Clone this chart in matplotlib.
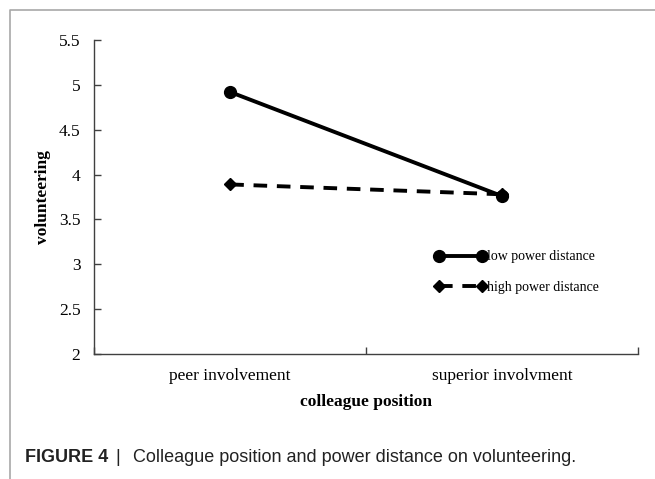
import matplotlib
matplotlib.use("Agg")
import matplotlib.pyplot as plt
from matplotlib.lines import Line2D

# data
positions = ["peer involvement", "superior involvment"]
low_pd = [4.92, 3.76]
high_pd = [3.89, 3.78]
yticks = [2, 2.5, 3, 3.5, 4, 4.5, 5, 5.5]
ytick_labels = ["2", "2.5", "3", "3.5", "4", "4.5", "5", "5.5"]

plt.rcParams['font.family'] = ['Liberation Serif', 'DejaVu Serif']

fig = plt.figure(figsize=(6.55, 4.79), dpi=100)
ax = fig.add_axes([94.3 / 655, 1 - 354 / 479, (638 - 94.3) / 655, (354 - 40) / 479])

x = list(range(len(positions)))
ax.plot(x, high_pd, color='black', lw=2.8, ls=(0, (3.5, 2.5)), marker='D', ms=6,
        label="high power distance", zorder=3)
ax.plot(x, low_pd, color='black', lw=2.8, marker='o', ms=8.5,
        label="low power distance", zorder=4)

ax.set_xlim(-0.5, 1.5)
ax.set_ylim(2, 5.5)
ax.set_yticks(yticks)
ax.set_yticklabels(ytick_labels)
ax.set_xticks([-0.5, 0.5, 1.5])
ax.set_xticklabels([])
ax.set_xticks(x, minor=True)
ax.set_xticklabels(positions, minor=True)

for s in ['top', 'right']:
    ax.spines[s].set_visible(False)
for s in ['left', 'bottom']:
    ax.spines[s].set_color('#404040')
    ax.spines[s].set_linewidth(1.0)

ax.tick_params(axis='y', direction='in', length=5, width=1, color='#404040',
               pad=10, labelsize=12.5)
ax.tick_params(axis='x', which='major', direction='in', length=5, width=1, color='#404040')
ax.tick_params(axis='x', which='minor', length=0, pad=10, labelsize=12.5)

ax.set_xlabel("colleague position", fontsize=12.5, fontweight='bold')
ax.set_ylabel("volunteering", fontsize=12.5, fontweight='bold')
ax.xaxis.set_label_coords(0.5, -0.128)
ax.yaxis.set_label_coords(-0.08, 0.5)

handles, labels = ax.get_legend_handles_labels()
ax.legend(handles[::-1], labels[::-1], loc='upper left', bbox_to_anchor=(0.626, 0.33),
          frameon=False, fontsize=10, numpoints=2, handlelength=3.7,
          handletextpad=0.05, borderpad=0, borderaxespad=0, labelspacing=1.25)

# outer panel border (top and left visible)
fig.add_artist(Line2D([9.5 / 655, 9.5 / 655, 1.0], [0.0, 1 - 9.5 / 479, 1 - 9.5 / 479],
                      transform=fig.transFigure, color='#a8a8a8', lw=1.2))

# caption
cap_y = 1 - 462 / 479
cap_font = ['Liberation Sans', 'DejaVu Sans']
fig.text(25 / 655, cap_y, "FIGURE 4", family=cap_font, fontweight='bold',
         fontsize=13, color='#222222', va='baseline')
fig.text(118 / 655, cap_y, "|", family=cap_font, fontsize=13, color='#222222',
         va='baseline', ha='center')
fig.text(133 / 655, cap_y, "Colleague position and power distance on volunteering.",
         family=cap_font, fontsize=13, color='#222222', va='baseline')

fig.savefig("out.png", dpi=100)
